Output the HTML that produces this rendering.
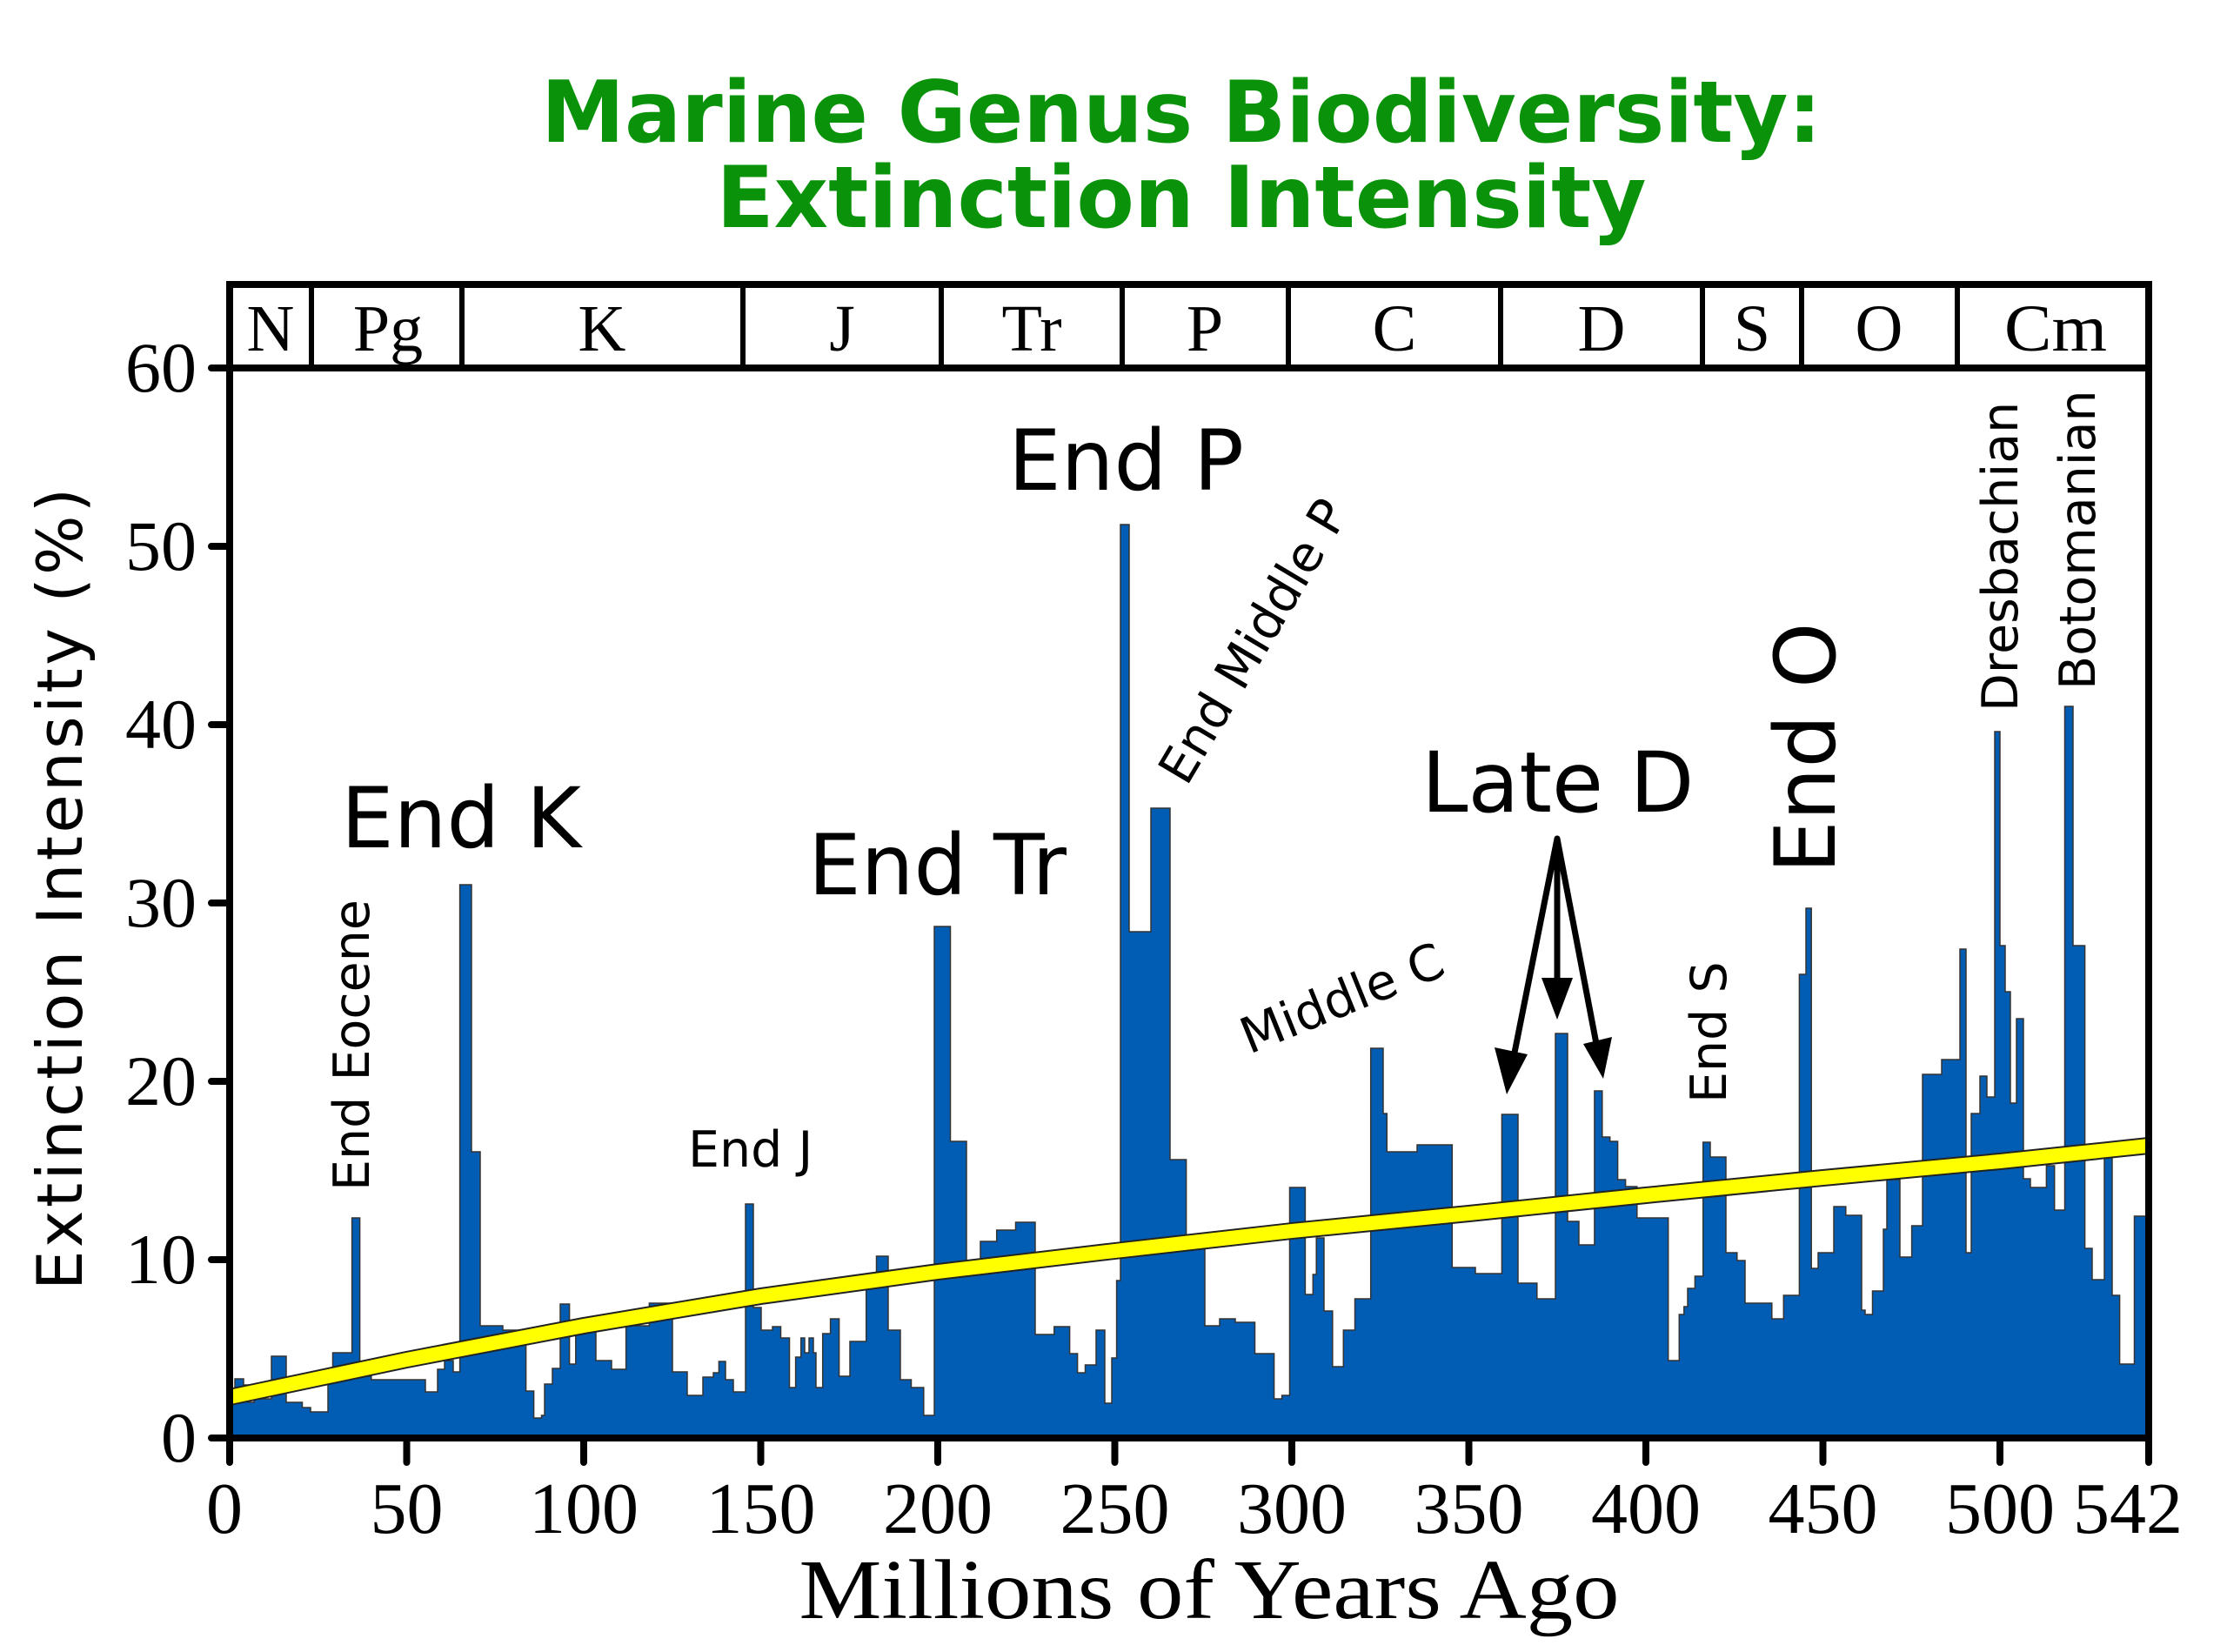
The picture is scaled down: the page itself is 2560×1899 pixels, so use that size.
<!DOCTYPE html>
<html><head><meta charset="utf-8"><style>html,body{margin:0;padding:0;background:#fff}svg{display:block}</style></head>
<body>
<svg xmlns="http://www.w3.org/2000/svg" width="2560" height="1899" viewBox="0 0 2560 1899">
<rect width="2560" height="1899" fill="#fff"/>
<g font-family="'DejaVu Sans','Liberation Sans',sans-serif" font-weight="bold" fill="#0a930a" font-size="98" text-anchor="middle">
<text x="1358" y="163" textLength="1472" lengthAdjust="spacingAndGlyphs">Marine Genus Biodiversity:</text>
<text x="1358" y="261" textLength="1069" lengthAdjust="spacingAndGlyphs">Extinction Intensity</text>
</g>
<path fill="#015cb4" stroke="#333" stroke-width="1.5" d="M264 1653 V1600 H270 V1585 H280 V1592 H286 V1612 H292 V1608 H312 V1559 H329 V1612 H347.5 V1618 H357 V1623 H377 V1589 H382.5 V1555 H404.6 V1400 H413.6 V1582 H426.8 V1586 H489 V1600 H503 V1574 H511 V1564 H521 V1577 H528.6 V1017 H542 V1324 H552 V1524 H578 V1529 H604.6 V1599 H613.6 V1630 H622.5 V1627 H626 V1591 H635 V1573 H644 V1499 H654.6 V1568 H661.8 V1530 H685 V1564 H703 V1574 H719.6 V1524 H746.4 V1498 H773 V1577 H790 V1604 H808 V1583 H820 V1578 H826.4 V1565 H834 V1586 H843 V1600 H857 V1384 H866 V1503 H875 V1529 H888 V1525 H897.5 V1538 H907.5 V1595 H914.6 V1560 H920.7 V1538 H925 V1555 H930 V1538 H935 V1555 H938 V1595 H945.7 V1533 H954.6 V1516 H964.6 V1582 H977 V1542 H995.7 V1481 H1007.5 V1444 H1021 V1529 H1035 V1586 H1047.5 V1595 H1061.8 V1627 H1074 V1065 H1092.5 V1312 H1111 V1457 H1127 V1427 H1145.7 V1414 H1167.5 V1405 H1190 V1534 H1211.8 V1525 H1229.6 V1556 H1238.6 V1578 H1247.5 V1569 H1260 V1529 H1270 V1613 H1278 V1561 H1283.6 V1472 H1288 V603 H1298 V1071 H1323 V929 H1345 V1333 H1363.6 V1433 H1385 V1524 H1402 V1516 H1420 V1520 H1442.5 V1556 H1464.6 V1608 H1473.6 V1604 H1482.5 V1365 H1500.4 V1488 H1509.3 V1465 H1513.2 V1423 H1522 V1507 H1531.8 V1571 H1544.3 V1529 H1557.5 V1493 H1575.7 V1205 H1590 V1280 H1594.3 V1324 H1629 V1316 H1669.3 V1457 H1696 V1464 H1726.4 V1281 H1745 V1475 H1766.8 V1493 H1788 V1188 H1802 V1404 H1815 V1431 H1832.9 V1254 H1841.8 V1307 H1850.7 V1312 H1859.6 V1356 H1868.6 V1364 H1881.8 V1400 H1917.7 V1564 H1930.3 V1511 H1935.8 V1502 H1940 V1481 H1948.4 V1467 H1957.7 V1313 H1966 V1330 H1984 V1440 H1996.8 V1449 H2006 V1498 H2036.8 V1516 H2050.3 V1489 H2068.4 V1120 H2076 V1044 H2082.2 V1458 H2090 V1440 H2108 V1387 H2121.8 V1397 H2140 V1506 H2144 V1511 H2152.5 V1484 H2165 V1413 H2169 V1356 H2184 V1445 H2197.6 V1409 H2210 V1235 H2232 V1218 H2253 V1091 H2260 V1440 H2266 V1280 H2276 V1237 H2284 V1261 H2293 V841 H2299 V1087 H2305 V1140 H2311 V1268 H2318 V1171 H2326 V1355 H2334 V1365 H2352.4 V1340 H2361.7 V1391 H2373.5 V812 H2383 V1087 H2396.6 V1435 H2405 V1471 H2419 V1325 H2428 V1489 H2436.6 V1568 H2453.5 V1398 H2470 V1653 Z"/>
<polyline fill="none" stroke="#222" stroke-width="20" points="264,1606 467.5,1563 671,1524 874.5,1490 1078,1462 1281.5,1438 1485,1415 1688.5,1395 1892,1374 2095.5,1354 2299,1335 2470,1317"/>
<polyline fill="none" stroke="#ffff00" stroke-width="16" points="264,1606 467.5,1563 671,1524 874.5,1490 1078,1462 1281.5,1438 1485,1415 1688.5,1395 1892,1374 2095.5,1354 2299,1335 2470,1317"/>
<g stroke="#000" stroke-width="8" stroke-linecap="round" fill="none">
<path d="M264 327 V1653 H2470 V327 Z"/>
<path d="M264 423 H2470"/>
<path d="M243 423 H264 M243 628 H264 M243 833 H264 M243 1038 H264 M243 1243 H264 M243 1448 H264 M243 1653 H264"/>
<path d="M264 1653 V1681 M467.5 1653 V1681 M671 1653 V1681 M874.5 1653 V1681 M1078 1653 V1681 M1281.5 1653 V1681 M1485 1653 V1681 M1688.5 1653 V1681 M1892 1653 V1681 M2095.5 1653 V1681 M2299 1653 V1681 M2470 1653 V1681"/>
</g>
<g stroke="#000" stroke-width="6">
<path d="M358 327 V423 M531 327 V423 M854 327 V423 M1082 327 V423 M1290 327 V423 M1481 327 V423 M1725 327 V423 M1957 327 V423 M2071 327 V423 M2250 327 V423"/>
</g>
<g font-family="'Liberation Serif',serif" font-size="76" text-anchor="middle" fill="#000">
<text x="311" y="403">N</text><text x="446" y="403">Pg</text><text x="692" y="403">K</text><text x="968" y="403">J</text><text x="1186" y="403">Tr</text><text x="1385" y="403">P</text><text x="1603" y="403">C</text><text x="1841" y="403">D</text><text x="2014" y="403">S</text><text x="2160" y="403">O</text><text x="2363" y="403" textLength="118" lengthAdjust="spacingAndGlyphs">Cm</text>
</g>
<g font-family="'Liberation Serif',serif" font-size="82" fill="#000" text-anchor="end">
<text x="226" y="450">60</text><text x="226" y="655">50</text><text x="226" y="860">40</text><text x="226" y="1065">30</text><text x="226" y="1270">20</text><text x="226" y="1475">10</text><text x="226" y="1680">0</text>
</g>
<g font-family="'Liberation Serif',serif" font-size="84" fill="#000" text-anchor="middle">
<text x="258" y="1762">0</text><text x="467.5" y="1762">50</text><text x="671" y="1762">100</text><text x="874.5" y="1762">150</text><text x="1078" y="1762">200</text><text x="1281.5" y="1762">250</text><text x="1485" y="1762">300</text><text x="1688.5" y="1762">350</text><text x="1892" y="1762">400</text><text x="2095.5" y="1762">450</text><text x="2299" y="1762">500</text><text x="2446" y="1762">542</text>
<text x="1390" y="1860" font-size="98" textLength="943" lengthAdjust="spacingAndGlyphs">Millions of Years Ago</text>
</g>
<text transform="translate(94,1022) rotate(-90)" font-family="'DejaVu Sans','Liberation Sans',sans-serif" font-size="72" text-anchor="middle" textLength="922" fill="#000">Extinction Intensity (%)</text>
<g font-family="'DejaVu Sans','Liberation Sans',sans-serif" fill="#000" font-size="96">
<text x="392" y="974">End K</text>
<text x="929" y="1028">End Tr</text>
<text x="1159" y="563">End P</text>
<text x="1634" y="933">Late D</text>
<text transform="translate(2109,1004) rotate(-90)">End O</text>
</g>
<g font-family="'DejaVu Sans','Liberation Sans',sans-serif" fill="#000" font-size="57">
<text x="791" y="1341">End J</text>
<text transform="translate(424,1369) rotate(-90)">End Eocene</text>
<text transform="translate(1984,1268) rotate(-90)">End S</text>
<text transform="translate(2319,818) rotate(-90)">Dresbachian</text>
<text transform="translate(2408,793) rotate(-90)">Botomanian</text>
<text transform="translate(1436,1212) rotate(-22)">Middle C</text>
<text transform="translate(1364,905) rotate(-59.3)">End Middle P</text>
</g>
<g stroke="#000" stroke-width="7" stroke-linecap="round" fill="none">
<path d="M1790 964 L1740 1215 M1790 964 L1790 1130 M1790 964 L1836 1205"/>
</g>
<g fill="#000">
<polygon points="1732,1258 1718,1204 1756,1212"/>
<polygon points="1790,1172 1772,1124 1808,1124"/>
<polygon points="1843,1240 1820,1200 1853,1192"/>
</g>
</svg>
</body></html>
